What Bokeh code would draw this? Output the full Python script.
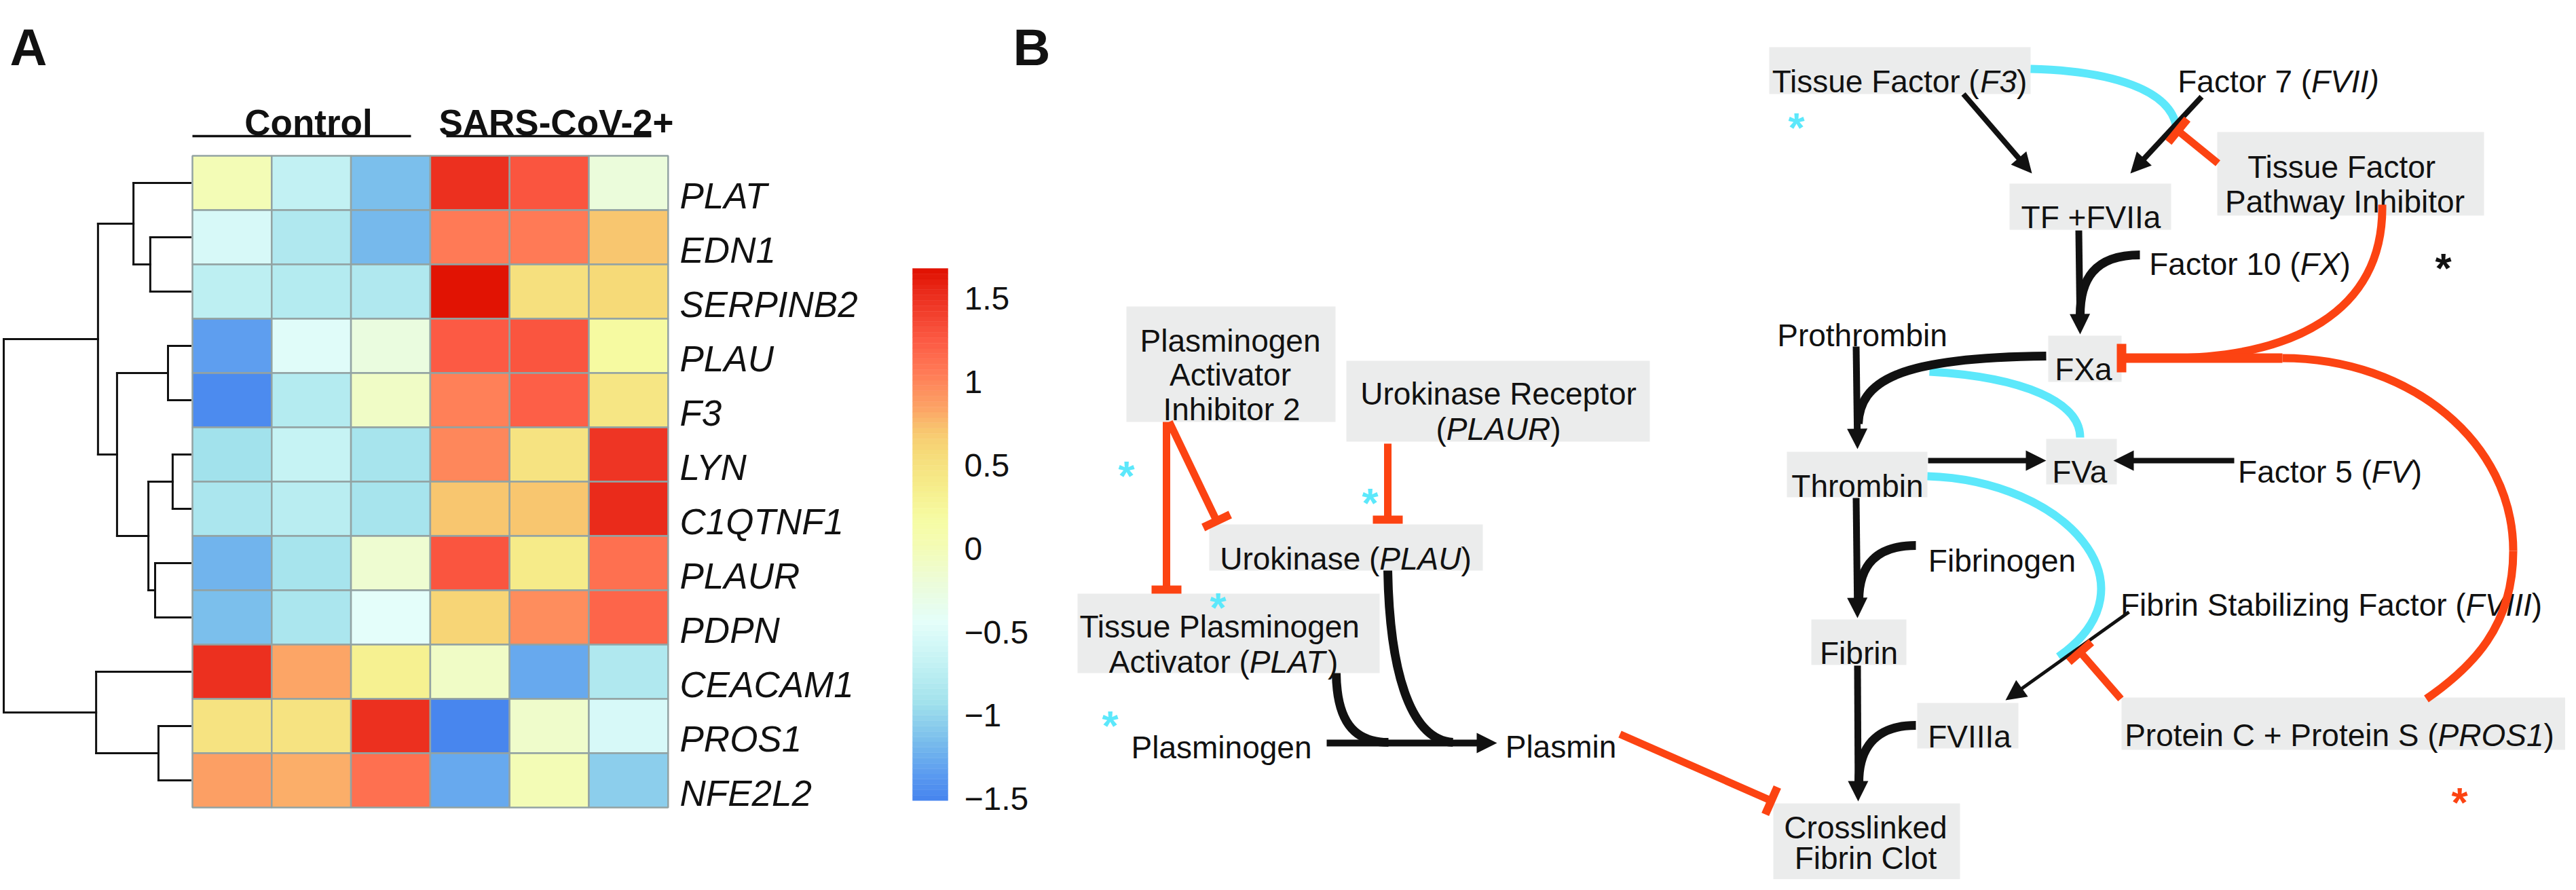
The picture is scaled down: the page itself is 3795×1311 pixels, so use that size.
import math
from bokeh.plotting import figure
from bokeh.models import Range1d, ColumnDataSource
from bokeh.core.properties import value
from bokeh.embed import file_html
from bokeh.resources import INLINE

# ======================= Panel A : data =======================
genes = ["PLAT", "EDN1", "SERPINB2", "PLAU", "F3", "LYN",
         "C1QTNF1", "PLAUR", "PDPN", "CEACAM1", "PROS1", "NFE2L2"]
samples = ["Control 1", "Control 2", "Control 3", "SARS-CoV-2+ 1", "SARS-CoV-2+ 2", "SARS-CoV-2+ 3"]
group_names = ["Control", "SARS-CoV-2+"]

z_PLAT     = [-0.05, -0.76, -1.22,  1.42,  1.20, -0.30]
z_EDN1     = [-0.60, -0.88, -1.23,  1.00,  0.98,  0.63]
z_SERPINB2 = [-0.80, -0.86, -0.90,  1.59,  0.45,  0.50]
z_PLAU     = [-1.40, -0.55, -0.33,  1.18,  1.20,  0.12]
z_F3       = [-1.52, -0.85, -0.15,  0.95,  1.15,  0.38]
z_LYN      = [-1.00, -0.72, -0.95,  0.92,  0.40,  1.40]
z_C1QTNF1  = [-0.93, -0.82, -0.95,  0.63,  0.63,  1.48]
z_PLAUR    = [-1.28, -0.95, -0.22,  1.20,  0.32,  1.05]
z_PDPN     = [-1.20, -0.93, -0.52,  0.55,  0.88,  1.10]
z_CEACAM1  = [ 1.45,  0.75,  0.25, -0.15, -1.33, -0.90]
z_PROS1    = [ 0.42,  0.42,  1.42, -1.58, -0.20, -0.60]
z_NFE2L2   = [ 0.80,  0.72,  1.05, -1.35, -0.05, -1.12]
zscores = [z_PLAT, z_EDN1, z_SERPINB2, z_PLAU, z_F3, z_LYN,
           z_C1QTNF1, z_PLAUR, z_PDPN, z_CEACAM1, z_PROS1, z_NFE2L2]

# row clustering (children: leaves 0..11, merges 12..), height relative to root
row_merges = [(1, 2, 0.215), (0, 12, 0.305), (3, 4, 0.120), (5, 6, 0.095),
              (7, 8, 0.189), (15, 16, 0.225), (14, 17, 0.393), (13, 18, 0.495),
              (10, 11, 0.171), (9, 20, 0.505), (19, 21, 1.000)]

cb_ticks = [1.5, 1.0, 0.5, 0.0, -0.5, -1.0, -1.5]
cb_tick_labels = ["1.5", "1", "0.5", "0", "\u22120.5", "\u22121", "\u22121.5"]
cb_min, cb_max = -1.58, 1.61

# colour ramp anchors (value -> colour)
ramp_vals = [-1.58, -1.43, -1.23, -0.99, -0.75, -0.51, -0.27, -0.05, 0.10,
             0.29, 0.51, 0.63, 0.77, 0.99, 1.18, 1.47, 1.61]
ramp_cols = ["#4684ee", "#5a9af0", "#78bcec", "#a2e2ec", "#c4f2f4", "#e4fefa",
             "#ecfcd8", "#f4fcb4", "#f6fca4", "#f6ee8c", "#f6da78", "#f8c870",
             "#fca466", "#ff7a56", "#fc5a44", "#ea2a1a", "#e01000"]

# ======================= Panel B : diagram =======================
# boxes: (x0, x1, y0, y1)
boxes = [(1667, 1975, 459, 629), (1991, 2438, 539, 658), (1789, 2192, 780, 848),
         (1595, 2040, 882, 999), (2614, 2999, 77, 146), (2968, 3206, 278, 346),
         (3274, 3667, 202, 325), (3025, 3133, 502, 570), (2640, 2847, 673, 740),
         (3022, 3126, 654, 721), (2676, 2816, 920, 987), (2832, 2981, 1043, 1110),
         (3133, 3787, 1035, 1112), (2620, 2895, 1191, 1303)]

# labels: (centre x, cap-centre y, [(text, italic)])
node_labels = [
    (1820, 493, [("Plasminogen", 0)]),
    (1820, 543, [("Activator", 0)]),
    (1822, 594, [("Inhibitor 2", 0)]),
    (2215, 571, [("Urokinase Receptor", 0)]),
    (2215, 623, [("(", 0), ("PLAUR", 1), (")", 0)]),
    (1990, 814, [("Urokinase (", 0), ("PLAU", 1), (")", 0)]),
    (1805, 914, [("Tissue Plasminogen", 0)]),
    (1810, 966, [("Activator (", 0), ("PLAT", 1), (")", 0)]),
    (1807, 1092, [("Plasminogen", 0)]),
    (2307, 1091, [("Plasmin", 0)]),
    (2806, 111, [("Tissue Factor (", 0), ("F3", 1), (")", 0)]),
    (3364, 111, [("Factor 7 (", 0), ("FVII)", 1)]),
    (3088, 311, [("TF +FVIIa", 0)]),
    (3458, 237, [("Tissue Factor", 0)]),
    (3462, 288, [("Pathway Inhibitor", 0)]),
    (3322, 380, [("Factor 10 (", 0), ("FX", 1), (")", 0)]),
    (3077, 535, [("FXa", 0)]),
    (2751, 485, [("Prothrombin", 0)]),
    (2744, 707, [("Thrombin", 0)]),
    (3073, 686, [("FVa", 0)]),
    (3440, 686, [("Factor 5 (", 0), ("FV", 1), (")", 0)]),
    (2957, 817, [("Fibrinogen", 0)]),
    (2746, 953, [("Fibrin", 0)]),
    (3442, 882, [("Fibrin Stabilizing Factor (", 0), ("FVIII", 1), (")", 0)]),
    (2909, 1076, [("FVIIIa", 0)]),
    (3454, 1074, [("Protein C + Protein S (", 0), ("PROS1", 1), (")", 0)]),
    (2756, 1210, [("Crosslinked", 0)]),
    (2756, 1255, [("Fibrin Clot", 0)]),
]

# asterisks: (x, y, colour)
asterisks = [(2654, 160, "#5ce8fb"), (1667, 673, "#5ce8fb"), (2026, 713, "#5ce8fb"),
             (1802, 867, "#5ce8fb"), (1643, 1041, "#5ce8fb"),
             (3607, 367, "#111111"), (3631, 1154, "#fc4312")]

# straight activating arrows: (x0, y0, tip x, tip y, width)
act_arrows = [(1962, 1102, 2213, 1102, 10), (2900, 146, 3001, 263, 8),
              (3251, 150, 3146, 263, 8), (3070, 347, 3072, 500, 10),
              (2742, 518, 2744, 669, 10), (2848, 686, 3022, 686, 8),
              (3299, 686, 3121, 686, 8), (2742, 741, 2744, 918, 10),
              (2744, 988, 2745, 1188, 10), (3144, 909, 2962, 1039, 5)]
# black joining curves (cubic): x0,y0,cx0,cy0,cx1,cy1,x1,y1
act_curves = [(1976, 999, 1977, 1080, 2010, 1101, 2053, 1101),
              (2052, 848, 2055, 1010, 2090, 1098, 2148, 1101),
              (3160, 383, 3092, 383, 3072, 420, 3072, 472),
              (3022, 532, 2800, 534, 2748, 570, 2745, 632),
              (2830, 811, 2772, 811, 2746, 840, 2746, 892),
              (2830, 1076, 2770, 1076, 2746, 1110, 2746, 1160)]
# inhibitions (straight, T-bar end): x0,y0,x1,y1
inh_lines = [(1726, 629, 1726, 876), (1730, 629, 1800, 775), (2052, 661, 2052, 773),
             (2394, 1089, 2617, 1187), (3275, 248, 3216, 200), (3132, 1037, 3072, 968)]
inh_curves = [(3517, 309, 3520, 470, 3380, 535, 3200, 535),
              (3370, 535, 3560, 535, 3710, 660, 3710, 819),
              (3710, 819, 3710, 930, 3650, 990, 3582, 1037)]
inh_fxa = (3370, 535, 3133, 535)
cyan_curves = [(2999, 109, 3120, 112, 3205, 140, 3214, 195),
               (2850, 555, 2990, 563, 3072, 600, 3072, 652),
               (2847, 709, 3050, 715, 3190, 870, 3040, 975)]

# ======================= helpers =======================
AW = {' ': 278, '(': 333, ')': 333, '+': 584, '-': 333, '.': 278, '*': 389, '\u2212': 584}
for c in "0123456789":
    AW[c] = 556
AW.update(dict(zip("ABCDEFGHIJKLMNOPQRSTUVWXYZ",
                   [667, 667, 722, 722, 667, 611, 778, 722, 278, 500, 667, 556, 833,
                    722, 778, 667, 778, 722, 667, 611, 722, 667, 944, 667, 667, 611])))
AW.update(dict(zip("abcdefghijklmnopqrstuvwxyz",
                   [556, 556, 500, 556, 556, 278, 556, 556, 222, 222, 500, 222, 833,
                    556, 556, 556, 556, 333, 500, 278, 556, 500, 722, 500, 500, 500])))


def tw(s, size):
    return sum(AW.get(c, 556) for c in s) / 1000.0 * size


def hexrgb(h):
    return tuple(int(h[i:i + 2], 16) for i in (1, 3, 5))


def ramp(v):
    v = min(max(v, ramp_vals[0]), ramp_vals[-1])
    for i in range(len(ramp_vals) - 1):
        if ramp_vals[i] <= v <= ramp_vals[i + 1]:
            t = (v - ramp_vals[i]) / (ramp_vals[i + 1] - ramp_vals[i])
            a, b = hexrgb(ramp_cols[i]), hexrgb(ramp_cols[i + 1])
            return "#%02x%02x%02x" % tuple(int(round(a[k] + (b[k] - a[k]) * t)) for k in range(3))
    return ramp_cols[-1]


NBINS = 100
bin_cols = [ramp(cb_min + (i + 0.5) * (cb_max - cb_min) / NBINS) for i in range(NBINS)]


def bin_color(v):
    i = int((v - cb_min) / (cb_max - cb_min) * NBINS)
    return bin_cols[min(max(i, 0), NBINS - 1)]


# ======================= figure =======================
W, H = 3779, 1295
p = figure(width=W, height=H, x_range=Range1d(8, 8 + W), y_range=Range1d(8 + H, 8),
           output_backend="svg", toolbar_location=None, min_border=0,
           x_axis_type=None, y_axis_type=None)
p.outline_line_color = None
p.background_fill_color = "white"
p.border_fill_color = "white"

FONT = value("Liberation Sans")
INK = "#111111"
ORANGE = "#fc4312"
CYAN = "#5ce8fb"

txt = dict(x=[], y=[], text=[], size=[], style=[], tcolor=[])


def add_text(x, y, s, size, style="normal", color=INK):
    txt["x"].append(x); txt["y"].append(y); txt["text"].append(s)
    txt["size"].append("%dpx" % size); txt["style"].append(style); txt["tcolor"].append(color)


# ---------- Panel A layout ----------
HM_X0, CELL_W, HM_Y0, CELL_H = 291, 116.8, 237, 80.0
LEAF_X, DEND_SCALE = 288, 275
nrow, ncol = len(genes), len(samples)

cells = dict(l=[], r=[], t=[], b=[], c=[])
for i, row in enumerate(zscores):
    for j, v in enumerate(row):
        cells["l"].append(HM_X0 + j * CELL_W); cells["r"].append(HM_X0 + (j + 1) * CELL_W)
        cells["t"].append(HM_Y0 + i * CELL_H); cells["b"].append(HM_Y0 + (i + 1) * CELL_H)
        cells["c"].append(bin_color(v))
p.quad(left="l", right="r", top="t", bottom="b", fill_color="c", line_color="#93a3a3",
       line_width=2.5, source=ColumnDataSource(cells))

# dendrogram
node_x = {k: LEAF_X for k in range(nrow)}
node_y = {k: HM_Y0 + (k + 0.5) * CELL_H for k in range(nrow)}
dseg = dict(x0=[], y0=[], x1=[], y1=[])
for m, (a, b, h) in enumerate(row_merges):
    k = nrow + m
    xm = LEAF_X - h * DEND_SCALE
    node_x[k] = xm
    node_y[k] = (node_y[a] + node_y[b]) / 2
    for ch in (a, b):
        dseg["x0"].append(xm); dseg["y0"].append(node_y[ch])
        dseg["x1"].append(node_x[ch]); dseg["y1"].append(node_y[ch])
    dseg["x0"].append(xm); dseg["y0"].append(node_y[a])
    dseg["x1"].append(xm); dseg["y1"].append(node_y[b])
p.segment(x0="x0", y0="y0", x1="x1", y1="y1", line_color=INK, line_width=3,
          line_cap="square", source=ColumnDataSource(dseg))

# gene labels
for i, g in enumerate(genes):
    add_text(1009, HM_Y0 + (i + 0.5) * CELL_H + 0.358 * 53, g, 53, "italic")

# group annotation
grp_lines = [(291, 613), (665, 967)]
grp_text_x = [462, 827]
p.segment(x0=[a for a, b in grp_lines], x1=[b for a, b in grp_lines], y0=[208, 208], y1=[208, 208],
          line_color=INK, line_width=3.5)
p.text(x=grp_text_x, y=[188, 188], text=group_names, text_font=FONT,
       text_font_size=value("53px"), text_font_style="bold", text_align="center",
       text_baseline="alphabetic", text_color=INK)

# colour bar
CB_X0, CB_X1, CB_ZERO, CB_K = 1352, 1404, 798.5, 245.7
cb = dict(l=[], r=[], t=[], b=[], c=[])
for i in range(NBINS):
    v0 = cb_min + i * (cb_max - cb_min) / NBINS
    v1 = cb_min + (i + 1) * (cb_max - cb_min) / NBINS
    cb["l"].append(CB_X0); cb["r"].append(CB_X1)
    cb["t"].append(CB_ZERO - CB_K * v1); cb["b"].append(CB_ZERO - CB_K * v0)
    cb["c"].append(bin_cols[i])
p.quad(left="l", right="r", top="t", bottom="b", fill_color="c", line_color="c",
       line_width=0.5, source=ColumnDataSource(cb))
for v, lab in zip(cb_ticks, cb_tick_labels):
    add_text(1428, CB_ZERO - CB_K * v + 0.358 * 48, lab, 48)

# panel letters
add_text(22, 77, "A", 76, "bold")
add_text(1500, 77, "B", 76, "bold")

# ---------- Panel B ----------
p.quad(left=[b[0] for b in boxes], right=[b[1] for b in boxes],
       top=[b[2] for b in boxes], bottom=[b[3] for b in boxes],
       fill_color="#ebecec", line_color=None)

LBL = 46
for cx, cy, segs in node_labels:
    total = sum(tw(s, LBL) for s, _ in segs)
    x = cx - total / 2
    for s, it in segs:
        add_text(x, cy + 0.358 * LBL, s, LBL, "italic" if it else "normal")
        x += tw(s, LBL)

AST = 62
for ax, ay, col in asterisks:
    add_text(ax - tw("*", AST) / 2, ay + 0.56 * AST, "*", AST, "bold", col)

p.text(x="x", y="y", text="text", text_font=FONT, text_font_size="size",
       text_font_style="style", text_color="tcolor", text_align="left",
       text_baseline="alphabetic", source=ColumnDataSource(txt))


def bez(curves, color, width):
    p.bezier(x0=[c[0] for c in curves], y0=[c[1] for c in curves],
             cx0=[c[2] for c in curves], cy0=[c[3] for c in curves],
             cx1=[c[4] for c in curves], cy1=[c[5] for c in curves],
             x1=[c[6] for c in curves], y1=[c[7] for c in curves],
             line_color=color, line_width=width)


# cyan curves
bez(cyan_curves, CYAN, 12)

# black activations
bez(act_curves, INK, 13)
HEAD_L, HEAD_HW = 30, 15
shaft = dict(x0=[], y0=[], x1=[], y1=[], w=[])
heads_x, heads_y = [], []
for x0, y0, x1, y1, w in act_arrows:
    d = math.hypot(x1 - x0, y1 - y0)
    ux, uy = (x1 - x0) / d, (y1 - y0) / d
    bx, by = x1 - HEAD_L * ux, y1 - HEAD_L * uy
    shaft["x0"].append(x0); shaft["y0"].append(y0)
    shaft["x1"].append(bx + 3 * ux); shaft["y1"].append(by + 3 * uy); shaft["w"].append(w)
    nx, ny = -uy, ux
    heads_x.append([x1, bx + HEAD_HW * nx, bx - HEAD_HW * nx])
    heads_y.append([y1, by + HEAD_HW * ny, by - HEAD_HW * ny])
p.segment(x0="x0", y0="y0", x1="x1", y1="y1", line_width="w", line_color=INK,
          source=ColumnDataSource(shaft))
p.patches(xs=heads_x, ys=heads_y, fill_color=INK, line_color=None)

# orange inhibitions
bez(inh_curves, ORANGE, 12)
BAR = 44
inh = dict(x0=[], y0=[], x1=[], y1=[])
bars = dict(x0=[], y0=[], x1=[], y1=[])
for x0, y0, x1, y1 in inh_lines:
    d = math.hypot(x1 - x0, y1 - y0)
    ux, uy = (x1 - x0) / d, (y1 - y0) / d
    nx, ny = -uy, ux
    inh["x0"].append(x0); inh["y0"].append(y0); inh["x1"].append(x1); inh["y1"].append(y1)
    bars["x0"].append(x1 + BAR / 2 * nx); bars["y0"].append(y1 + BAR / 2 * ny)
    bars["x1"].append(x1 - BAR / 2 * nx); bars["y1"].append(y1 - BAR / 2 * ny)
p.segment(x0="x0", y0="y0", x1="x1", y1="y1", line_width=11, line_color=ORANGE,
          source=ColumnDataSource(inh))
p.segment(x0="x0", y0="y0", x1="x1", y1="y1", line_width=12, line_color=ORANGE,
          source=ColumnDataSource(bars))
fx0, fy0, fx1, fy1 = inh_fxa
p.segment(x0=[fx0], y0=[fy0], x1=[fx1], y1=[fy1], line_width=14, line_color=ORANGE)
p.segment(x0=[fx1], y0=[fy1 - 21], x1=[fx1], y1=[fy1 + 21], line_width=14, line_color=ORANGE)

open("out.html", "w").write(file_html(p, INLINE))
